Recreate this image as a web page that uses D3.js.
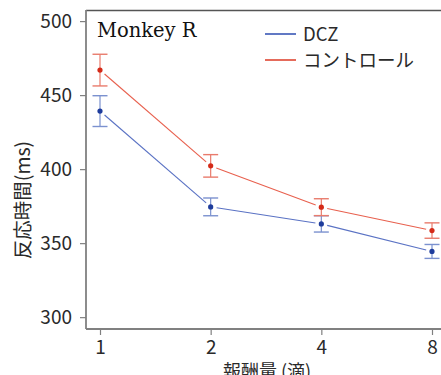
<!DOCTYPE html>
<html><head><meta charset="utf-8">
<script src="https://cdn.jsdelivr.net/npm/d3@7/dist/d3.min.js"></script>
<style>body{margin:0;background:#fff}svg{display:block}</style>
</head><body>
<svg id="c" width="441" height="375"></svg>
<script>
const rewards = [1, 2, 4, 8];
const dczMean = [439.2, 374.5, 363.0, 344.4];
const dczErr  = [10.4, 6.0, 5.5, 4.7];
const ctlMean = [466.9, 402.2, 374.3, 358.5];
const ctlErr  = [10.7, 7.6, 5.7, 5.2];
const yTicks = [300, 350, 400, 450, 500];
const seriesNames = ["DCZ", "コントロール"];

const svg = d3.select("#c");
const sans = "'Noto Sans CJK JP', 'Noto Sans', sans-serif";
const L = 86, T = 10, B = 329, R = 441;

const x = d3.scaleLog().base(2).domain([1, 8]).range([100, 432]);
const y = d3.scaleLinear().domain([292, 507.5]).range([B, T]);

// frame top
svg.append("line").attr("x1", L).attr("x2", R).attr("y1", T + 0.5).attr("y2", T + 0.5)
  .attr("stroke", "#555").attr("stroke-width", 1.3);

// y axis
const ya = svg.append("g").attr("transform", `translate(${L},0)`)
  .call(d3.axisLeft(y).tickValues(yTicks).tickSize(6).tickPadding(8));
ya.select(".domain").attr("stroke", "#808080").attr("stroke-width", 1.8)
  .attr("d", `M0,${T}V${B}`);
ya.selectAll(".tick line").attr("stroke", "#808080").attr("stroke-width", 1.2);
ya.selectAll(".tick text").attr("font-family", sans).attr("font-size", 19).attr("fill", "#2a2a2a");

// x axis
const xa = svg.append("g").attr("transform", `translate(0,${B})`)
  .call(d3.axisBottom(x).tickValues(rewards).tickFormat(d3.format("d")).tickSize(6).tickPadding(6));
xa.select(".domain").attr("stroke", "#808080").attr("stroke-width", 2)
  .attr("d", `M${L},0H${R}`);
xa.selectAll(".tick line").attr("stroke", "#808080").attr("stroke-width", 1.2);
xa.selectAll(".tick text").attr("font-family", sans).attr("font-size", 19).attr("fill", "#2a2a2a");

// axis titles
svg.append("text").attr("x", 267).attr("y", 378).attr("text-anchor", "middle")
  .attr("font-family", sans).attr("font-size", 18).attr("fill", "#2a2a2a").text("報酬量 (滴)");
svg.append("text").attr("transform", "translate(30,200) rotate(-90)").attr("text-anchor", "middle")
  .attr("font-family", sans).attr("font-size", 19.5).attr("fill", "#2a2a2a").text("反応時間(ms)");

// Monkey R
svg.append("text").attr("x", 97).attr("y", 37).attr("font-family", "'DejaVu Serif', serif")
  .attr("font-size", 19.5).attr("fill", "#111").text("Monkey R");

const series = [
  {name: seriesNames[0], mean: dczMean, err: dczErr, line: "#5a72c4", mark: "#1e3c9c", bar: "#7b91cf"},
  {name: seriesNames[1], mean: ctlMean, err: ctlErr, line: "#e8604e", mark: "#d42a18", bar: "#e97b6c"}
];

const gap = 6;
series.forEach(s => {
  const g = svg.append("g");
  const pts = rewards.map((r, i) => [x(r), y(s.mean[i])]);
  for (let i = 0; i < pts.length - 1; i++) {
    const [x1, y1] = pts[i], [x2, y2] = pts[i + 1];
    const dx = x2 - x1, dy = y2 - y1, len = Math.hypot(dx, dy);
    const ux = dx / len, uy = dy / len;
    g.append("line").attr("x1", x1 + ux * gap).attr("y1", y1 + uy * gap)
      .attr("x2", x2 - ux * gap).attr("y2", y2 - uy * gap)
      .attr("stroke", s.line).attr("stroke-width", 1.1);
  }
  rewards.forEach((r, i) => {
    const cx = x(r), yt = y(s.mean[i] + s.err[i]), yb = y(s.mean[i] - s.err[i]);
    g.append("line").attr("x1", cx).attr("x2", cx).attr("y1", yt).attr("y2", yb)
      .attr("stroke", s.bar).attr("stroke-width", 1.2);
    [yt, yb].forEach(yy => g.append("line").attr("x1", cx - 7.5).attr("x2", cx + 7.5)
      .attr("y1", yy).attr("y2", yy).attr("stroke", s.bar).attr("stroke-width", 1.4));
    g.append("circle").attr("cx", cx).attr("cy", y(s.mean[i])).attr("r", 2.6).attr("fill", s.mark);
  });
});

// legend
series.forEach((s, i) => {
  const ly = 34 + i * 26;
  svg.append("line").attr("x1", 265).attr("x2", 296).attr("y1", ly).attr("y2", ly)
    .attr("stroke", i === 0 ? "#2c4cb0" : "#dd3a25").attr("stroke-width", 1.5);
  svg.append("text").attr("x", 303).attr("y", ly + 6.5).attr("font-family", sans)
    .attr("font-size", 18.5).attr("fill", "#2a2a2a").text(s.name);
});
</script>
</body></html>
